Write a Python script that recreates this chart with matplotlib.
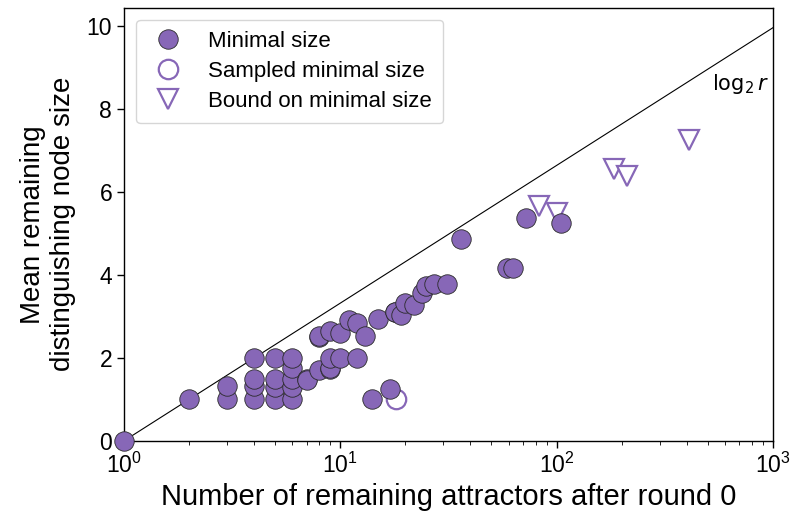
import matplotlib
matplotlib.use('Agg')
import matplotlib.pyplot as plt
import numpy as np

plt.rcParams['font.family'] = ['Liberation Sans', 'DejaVu Sans']

# minimal size (filled circles)
min_x = [1, 2, 3, 3, 4, 4, 4, 4, 5, 5, 5, 5, 6, 6, 6, 6, 6,
         7, 7, 8, 8, 8, 9, 9, 9, 9, 10, 10, 11, 12, 12, 13,
         14, 15, 17, 18, 18, 19, 20, 22, 24, 25, 27, 31,
         36, 59, 63, 72, 105]
min_y = [0, 1, 1, 1.33, 1, 1.33, 1.5, 2, 1, 1.29, 1.5, 2, 1, 1.29, 1.5, 1.75, 2,
         1.5, 1.47, 1.71, 2.5, 2.52, 1.73, 1.76, 2, 2.66, 2, 2.6, 2.92, 2.84, 2, 2.54,
         1, 2.94, 1.25, 3.12, 3.1, 3.04, 3.33, 3.28, 3.57, 3.73, 3.79, 3.79,
         4.88, 4.17, 4.17, 5.38, 5.26]

# sampled minimal size (open circle)
samp_x = [18.2]
samp_y = [1]

# bound on minimal size (open triangles)
bound_x = [83, 100, 184, 211, 409]
bound_y = [5.66, 5.5, 6.55, 6.4, 7.27]

purple = '#8767B7'

fig = plt.figure(figsize=(7.95, 5.18), dpi=100)
ax = fig.add_axes([0.156, 0.149, 0.816, 0.836])

r = np.logspace(0, 3, 200)
ax.plot(r, np.log2(r), color='black', lw=0.8, zorder=1)

ax.plot(min_x, min_y, 'o', ms=14, mfc=purple, mec='#2a2a2a', mew=0.6,
        ls='none', label='Minimal size', zorder=3, clip_on=False)
ax.plot(samp_x, samp_y, 'o', ms=14, mfc='white', mec=purple, mew=1.6,
        ls='none', label='Sampled minimal size', zorder=2)
ax.plot(bound_x, bound_y, 'v', ms=15, mfc='white', mec=purple, mew=1.6,
        ls='none', label='Bound on minimal size', zorder=2)

ax.text(960, 8.62, r'$\log_2 r$', ha='right', va='center', fontsize=15)

ax.set_xscale('log')
ax.set_xlim(1, 1000)
ax.set_ylim(0, 10.45)
ax.set_yticks([0, 2, 4, 6, 8, 10])
ax.tick_params(labelsize=16.5, width=1.0, length=5)
ax.tick_params(which='minor', length=3)
for s in ax.spines.values():
    s.set_linewidth(1.0)

ax.set_xlabel('Number of remaining attractors after round 0', fontsize=21)
ax.set_ylabel('Mean remaining\ndistinguishing node size', fontsize=20, labelpad=8)

leg = ax.legend(loc='upper left', fontsize=16, frameon=True, borderpad=0.5,
                handletextpad=0.85, labelspacing=0.4, handlelength=1.9,
                borderaxespad=0.55)
leg.get_frame().set_edgecolor('#cccccc')

fig.savefig('out.png', dpi=100)
